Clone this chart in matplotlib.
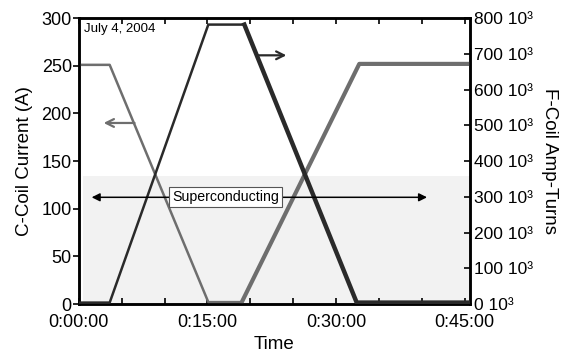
import numpy as np
import matplotlib.pyplot as plt
from matplotlib.ticker import MultipleLocator, FixedLocator

plt.rcParams['font.family'] = ['Liberation Sans', 'DejaVu Sans']

# time in minutes
t_c = [0, 3.6, 15.1, 19.0, 32.7, 45.6]
c_coil = [251, 251, 2, 2, 252, 252]          # A
t_f = [0, 3.6, 15.1, 19.3, 32.4, 45.6]
f_coil = [4, 4, 782, 782, 4, 4]              # amp-turns / 10^3

time_ticks = [0, 15, 30, 45]
time_labels = ['0:00:00', '0:15:00', '0:30:00', '0:45:00']
sc_level = 134   # top of the superconducting band (A scale)

fig = plt.figure(figsize=(5.71, 3.56), dpi=100)
ax = fig.add_axes([0.138, 0.146, 0.685, 0.803])
ax2 = ax.twinx()

ax.axhspan(0, sc_level, xmin=0.012, xmax=1, color='#f2f2f2', zorder=0, lw=0)

# C-coil: thin first ramp, thick second ramp
ax.plot(t_c[:4], c_coil[:4], color='#6e6e6e', lw=1.8, zorder=3)
ax.plot(t_c[3:], c_coil[3:], color='#6e6e6e', lw=3.0, zorder=3)

# F-coil
ax2.plot(t_f[:4], f_coil[:4], color='#2a2a2a', lw=1.8, zorder=3)
ax2.plot(t_f[3:], f_coil[3:], color='#2a2a2a', lw=3.2, zorder=3)

ax.set_xlim(0, 45.6)
ax.set_ylim(0, 300)
ax2.set_ylim(0, 800)

ax.xaxis.set_major_locator(FixedLocator(time_ticks))
ax.set_xticklabels(time_labels)
ax.xaxis.set_minor_locator(MultipleLocator(5))
ax.yaxis.set_major_locator(MultipleLocator(50))
ax2.set_yticks(np.arange(0, 801, 100))
ax2.set_yticklabels([f'{v} 10³' for v in range(0, 801, 100)])

ax.tick_params(axis='x', which='both', direction='in', top=True, length=4, width=1.2,
               labelsize=13, pad=7)
ax.tick_params(axis='y', direction='out', length=4, width=1.2, labelsize=13, pad=1)
ax2.tick_params(axis='y', direction='in', length=4, width=1.2, labelsize=12.5, pad=3)
for lab in ax.get_yticklabels() + ax2.get_yticklabels():
    lab.set_va('center_baseline')

for a in (ax, ax2):
    for s in a.spines.values():
        s.set_linewidth(1.8)

ax.set_xlabel('Time', fontsize=13.5, labelpad=4)
ax.set_ylabel('C-Coil Current (A)', fontsize=13.5, labelpad=6)
ax2.set_ylabel('F-Coil Amp-Turns', fontsize=13.5, rotation=-90, labelpad=18)

# direction arrows
ax.annotate('', xy=(2.9, 190), xytext=(6.5, 190),
            arrowprops=dict(arrowstyle='->', color='#6e6e6e', lw=1.6,
                            mutation_scale=14, shrinkA=0, shrinkB=0), zorder=4)
ax.annotate('', xy=(24.2, 261), xytext=(20.9, 261),
            arrowprops=dict(arrowstyle='->', color='#2a2a2a', lw=1.6,
                            mutation_scale=14, shrinkA=0, shrinkB=0), zorder=4)

# superconducting span
ax2.annotate('', xy=(1.5, 112 * 8 / 3), xytext=(40.6, 112 * 8 / 3),
             arrowprops=dict(arrowstyle='<|-|>', color='black', lw=1.1,
                             mutation_scale=12, shrinkA=0, shrinkB=0), zorder=5)
ax2.text(17.1, 112 * 8 / 3, 'Superconducting', fontsize=10.2, ha='center', va='center',
         zorder=6, bbox=dict(boxstyle='square,pad=0.2', fc='white', ec='#555555', lw=0.8))

ax.text(0.6, 289, 'July 4, 2004', fontsize=9.5, ha='left', va='center')

fig.savefig('out.png', dpi=100)
